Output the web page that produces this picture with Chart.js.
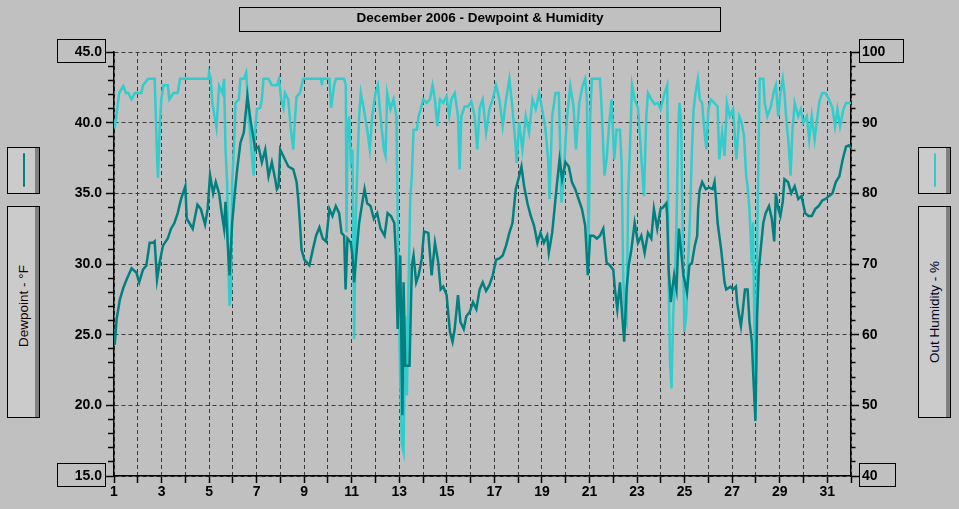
<!DOCTYPE html>
<html>
<head>
<meta charset="utf-8">
<title>December 2006 - Dewpoint & Humidity</title>
<script src="https://cdn.jsdelivr.net/npm/chart.js"></script>
<style>
  html, body { margin: 0; padding: 0; background: #c0c0c0; }
  #wrap { position: relative; width: 959px; height: 509px; overflow: hidden; font-family: "Liberation Sans", Arial, sans-serif; }
  #chart { position: absolute; left: 0; top: 0; }
  .box { position: absolute; box-sizing: border-box; border: 1px solid #000; }
  #title { left: 239px; top: 7px; width: 482px; height: 25px; text-align: center; font-weight: bold; font-size: 13.5px; line-height: 19px; color: #000; }
  .legend { background: #cbcbcb; box-shadow: inset -4px 0 0 #808080; }
  .swatch { position: absolute; width: 2px; top: 5px; height: 34px; border-radius: 1px; }
  .axisname { position: absolute; left: 50%; top: 50%; white-space: nowrap; font-size: 13.5px; }
  .endlbl { background: transparent; }
</style>
</head>
<body>
<div id="wrap">
  <canvas id="chart" width="959" height="509"></canvas>
  <div id="title" class="box">December 2006 - Dewpoint &amp; Humidity</div>

  <div class="box legend" style="left:7px; top:147px; width:33px; height:47px;">
    <div class="swatch" style="left:15px; background:#008080;"></div>
  </div>
  <div class="box legend" style="left:7px; top:206px; width:33px; height:212px;">
    <span class="axisname" style="color:#1a0000; transform: translate(-50%, -50%) translate(-1px, -6px) rotate(-90deg);">Dewpoint - °F</span>
  </div>

  <div class="box legend" style="left:918px; top:147px; width:33px; height:47px;">
    <div class="swatch" style="left:15px; background:#33cccc;"></div>
  </div>
  <div class="box legend" style="left:918px; top:206px; width:33px; height:212px;">
    <span class="axisname" style="color:#00001a; transform: translate(-50%, -50%) translate(-1px, 0px) rotate(-90deg);">Out Humidity - %</span>
  </div>

  <div class="box endlbl" style="left:57px; top:39px; width:49px; height:24px;"></div>
  <div class="box endlbl" style="left:57px; top:463px; width:49px; height:24px;"></div>
  <div class="box endlbl" style="left:859px; top:39px; width:45px; height:24px;"></div>
  <div class="box endlbl" style="left:859px; top:463px; width:37px; height:24px;"></div>
</div>
<script>
// Dewpoint (°F) - jour du mois (fractionnaire) et valeur
const dewDays = [
  1.00, 1.03, 1.11, 1.25, 1.39, 1.53, 1.74, 1.94, 2.06, 2.22, 2.36, 2.50, 2.64, 2.71, 2.81, 2.92,
  3.06, 3.26, 3.40, 3.54, 3.68, 3.82, 4.00, 4.06, 4.17, 4.31, 4.51, 4.65, 4.83, 4.94,
  5.04, 5.17, 5.28, 5.42, 5.53, 5.63, 5.69, 5.81, 5.86, 5.97, 6.08, 6.18, 6.32, 6.46, 6.53, 6.61, 6.74, 6.94,
  7.08, 7.22, 7.36, 7.50, 7.64, 7.78, 7.85, 7.92, 7.99, 8.13, 8.33, 8.54, 8.68, 8.75, 8.82, 8.89,
  9.01, 9.22, 9.36, 9.50, 9.64, 9.78, 9.92, 10.06, 10.19, 10.33, 10.47, 10.57, 10.68, 10.74, 10.82, 10.96,
  11.03, 11.10, 11.21, 11.31, 11.44, 11.54, 11.65, 11.79, 11.93, 12.07, 12.21, 12.38, 12.51, 12.65, 12.79, 12.86, 12.93,
  13.04, 13.13, 13.18, 13.25, 13.43, 13.53, 13.60, 13.71, 13.81, 13.94, 14.04, 14.22, 14.36, 14.50, 14.64, 14.74, 14.85, 14.99,
  15.13, 15.24, 15.33, 15.47, 15.57, 15.71, 15.82, 15.96, 16.10, 16.24, 16.38, 16.51, 16.65, 16.79, 16.93,
  17.07, 17.21, 17.35, 17.49, 17.63, 17.76, 17.90, 18.04, 18.14, 18.25, 18.39, 18.53, 18.67, 18.81, 18.94,
  19.08, 19.22, 19.29, 19.43, 19.57, 19.64, 19.74, 19.85, 19.99, 20.13, 20.26, 20.40, 20.54, 20.68, 20.82, 20.93,
  21.03, 21.17, 21.31, 21.44, 21.58, 21.72, 21.86, 22.00, 22.07, 22.17, 22.28, 22.38, 22.46, 22.56, 22.65, 22.76, 22.90,
  23.04, 23.18, 23.32, 23.46, 23.60, 23.71, 23.85, 23.99, 24.09, 24.23, 24.27, 24.33, 24.42, 24.48, 24.56, 24.66, 24.76, 24.85, 24.95,
  25.02, 25.10, 25.20, 25.31, 25.43, 25.53, 25.57, 25.63, 25.74, 25.89, 26.03, 26.18, 26.26, 26.32, 26.39, 26.46, 26.54, 26.61, 26.68, 26.75, 26.93,
  27.04, 27.16, 27.21, 27.30, 27.37, 27.44, 27.54, 27.65, 27.73, 27.83, 27.90, 27.98, 28.05, 28.12, 28.20, 28.31, 28.41, 28.55, 28.67, 28.77, 28.84, 28.94,
  29.03, 29.13, 29.20, 29.35, 29.49, 29.63, 29.78, 29.92, 30.07, 30.21, 30.35, 30.50, 30.64, 30.79, 30.93,
  31.07, 31.22, 31.36, 31.51, 31.65, 31.79, 31.91, 32.00
];
const dewValues = [
  25.0, 24.3, 26.1, 27.5, 28.3, 28.9, 29.7, 29.4, 28.7, 29.6, 29.9, 31.5, 31.5, 31.6, 28.9, 30.1,
  31.3, 31.8, 32.5, 32.9, 33.6, 34.6, 35.5, 33.2, 32.9, 32.5, 34.2, 33.9, 32.8, 33.9,
  36.3, 35.0, 35.8, 35.0, 33.6, 32.5, 34.4, 30.6, 29.2, 32.9, 35.0, 36.7, 38.6, 39.3, 40.5, 41.9, 40.2, 38.1,
  38.3, 37.2, 38.1, 36.2, 37.2, 36.0, 35.3, 35.5, 38.1, 37.6, 36.9, 36.7, 35.8, 34.6, 32.9, 31.0,
  30.3, 29.9, 31.0, 32.0, 32.6, 31.8, 31.6, 33.9, 33.4, 34.1, 33.6, 32.2, 32.0, 28.2, 31.8, 31.5,
  30.6, 28.7, 31.0, 32.9, 34.3, 35.3, 34.3, 34.1, 33.2, 33.6, 32.5, 32.0, 33.6, 33.4, 32.9, 30.6, 25.4,
  30.6, 19.3, 28.7, 22.8, 22.8, 29.9, 30.6, 28.7, 29.2, 30.3, 32.3, 32.2, 29.2, 31.5, 30.1, 28.2, 28.4, 27.8,
  25.2, 24.5, 25.4, 27.8, 25.9, 25.4, 26.3, 26.6, 27.3, 26.8, 28.2, 28.7, 28.1, 28.5, 29.2,
  30.3, 30.4, 30.6, 31.3, 32.2, 32.9, 35.3, 36.2, 36.9, 35.5, 34.3, 33.4, 32.7, 31.5, 32.2,
  31.5, 32.0, 30.8, 32.2, 34.6, 35.8, 37.4, 36.0, 37.2, 36.9, 35.8, 35.3, 34.6, 33.9, 32.7, 29.2,
  32.0, 32.0, 31.8, 32.0, 32.5, 30.1, 29.9, 29.6, 28.2, 26.8, 28.7, 26.3, 24.5, 28.2, 29.9, 31.0, 32.9,
  31.5, 32.0, 30.8, 32.2, 31.8, 33.9, 32.5, 33.9, 34.0, 34.3, 33.4, 29.6, 27.3, 28.2, 29.2, 28.2, 32.5, 31.0, 29.2,
  28.7, 28.0, 29.9, 30.1, 31.3, 32.0, 33.9, 35.2, 35.8, 35.3, 35.4, 35.3, 35.8, 34.6, 32.9, 32.0, 31.0, 29.9, 28.7, 28.2, 28.4,
  28.2, 28.4, 27.3, 26.3, 25.6, 26.6, 28.2, 28.2, 25.9, 24.5, 21.7, 18.9, 26.3, 29.6, 31.0, 32.9, 33.6, 34.1, 33.2, 31.6, 35.0, 33.9,
  33.4, 34.4, 36.0, 35.8, 35.0, 35.5, 34.6, 34.8, 33.6, 33.4, 33.4, 33.9, 34.1, 34.5, 34.6,
  34.8, 35.0, 35.8, 36.2, 37.4, 38.3, 38.4, 38.2
];

// Humidité extérieure (%)
const humDays = [
  1.00, 1.03, 1.14, 1.22, 1.39, 1.50, 1.60, 1.74, 1.88, 2.15, 2.22, 2.43, 2.71, 2.75, 2.81, 2.85, 2.92, 2.99,
  3.08, 3.26, 3.33, 3.50, 3.68, 3.78, 4.03, 4.97, 5.00, 5.07, 5.14, 5.31, 5.42, 5.56, 5.63, 5.69, 5.76, 5.81, 5.86, 5.92, 5.97,
  6.04, 6.11, 6.25, 6.32, 6.46, 6.56, 6.67, 6.81, 6.88, 6.94, 7.01, 7.15, 7.22, 7.29, 7.50, 7.64, 7.85, 7.94,
  8.03, 8.13, 8.19, 8.33, 8.44, 8.54, 8.61, 8.68, 8.82, 8.96, 9.71, 9.74, 9.78, 10.06, 10.13, 10.26, 10.33, 10.68, 10.75, 10.78, 10.82, 10.89, 10.96,
  11.03, 11.10, 11.17, 11.24, 11.31, 11.38, 11.51, 11.65, 11.76, 11.86, 12.00, 12.10, 12.21, 12.35, 12.42, 12.49, 12.63, 12.76, 12.88, 12.90, 12.97,
  13.04, 13.11, 13.18, 13.25, 13.32, 13.39, 13.46, 13.53, 13.60, 13.74, 13.81, 13.90, 14.01, 14.15, 14.29, 14.40, 14.50, 14.60, 14.71, 14.85, 14.99,
  15.10, 15.19, 15.33, 15.47, 15.54, 15.61, 15.75, 15.89, 16.03, 16.17, 16.28, 16.38, 16.51, 16.65, 16.79, 16.93,
  17.07, 17.21, 17.35, 17.49, 17.63, 17.76, 17.88, 17.94, 18.04, 18.18, 18.32, 18.46, 18.60, 18.74, 18.88,
  19.01, 19.15, 19.26, 19.32, 19.43, 19.57, 19.71, 19.82, 19.92, 19.99, 20.06, 20.19, 20.33, 20.43, 20.57, 20.71, 20.82, 20.89, 20.96,
  21.03, 21.10, 21.44, 21.51, 21.63, 21.72, 21.82, 21.93, 22.04, 22.14, 22.28, 22.35, 22.42, 22.49, 22.56, 22.63, 22.69, 22.79, 22.90,
  23.04, 23.15, 23.29, 23.39, 23.46, 23.60, 23.74, 23.88, 23.99, 24.16, 24.27, 24.33, 24.39, 24.45, 24.52, 24.59, 24.66, 24.73, 24.78, 24.85, 24.91, 24.99,
  25.07, 25.14, 25.22, 25.31, 25.38, 25.46, 25.56, 25.64, 25.74, 25.84, 25.92, 26.00, 26.10, 26.25, 26.39, 26.46, 26.58, 26.68, 26.78, 26.90,
  27.04, 27.18, 27.30, 27.40, 27.50, 27.59, 27.65, 27.73, 27.82, 27.88, 27.93, 27.99, 28.05, 28.11, 28.16, 28.31, 28.37, 28.48, 28.63, 28.74, 28.84, 28.94,
  29.03, 29.13, 29.20, 29.27, 29.37, 29.46, 29.53, 29.63, 29.78, 29.89, 29.99, 30.14, 30.24, 30.35, 30.47, 30.57, 30.67, 30.79, 30.93,
  31.07, 31.22, 31.33, 31.43, 31.54, 31.68, 31.79, 31.94, 32.00
];
const humValues = [
  90.4, 89.2, 92.1, 94.2, 95.2, 94.2, 94.2, 93.3, 94.2, 94.2, 95.3, 96.2, 96.2, 91.9, 85.3, 82.2, 89.0, 93.3,
  95.3, 95.3, 93.3, 94.2, 94.2, 96.2, 96.2, 96.2, 97.1, 96.2, 92.7, 89.3, 95.2, 94.2, 96.2, 86.2, 81.5, 69.8, 64.1, 66.0, 81.5,
  86.2, 92.8, 93.3, 96.2, 96.2, 97.1, 90.9, 84.8, 82.5, 89.0, 91.9, 92.1, 93.3, 96.2, 96.2, 95.3, 95.3, 96.2,
  93.3, 92.1, 94.2, 93.3, 89.0, 86.2, 90.4, 93.7, 94.2, 96.2, 96.2, 95.3, 96.2, 96.2, 92.1, 95.3, 96.2, 96.2, 95.3, 74.5, 88.1, 90.9, 84.8,
  86.2, 59.4, 76.8, 83.9, 90.9, 94.2, 91.9, 89.0, 86.2, 90.9, 94.2, 95.3, 90.9, 86.2, 85.3, 94.2, 91.9, 93.3, 90.9, 85.3, 67.3,
  53.3, 44.4, 43.4, 62.7, 51.4, 67.3, 79.2, 82.5, 89.0, 89.0, 90.9, 91.9, 93.3, 92.8, 93.3, 95.3, 93.3, 89.5, 93.3, 92.8, 93.7,
  90.9, 93.3, 94.2, 90.9, 83.4, 90.9, 92.3, 92.3, 93.0, 90.9, 86.2, 92.1, 93.3, 88.6, 91.9, 93.3,
  95.3, 93.3, 89.5, 93.3, 96.2, 92.1, 87.2, 84.3, 90.0, 86.2, 90.9, 88.6, 93.3, 91.9, 94.2,
  91.9, 89.0, 84.8, 79.2, 90.9, 94.2, 94.2, 78.7, 82.5, 87.2, 90.9, 95.2, 92.3, 86.2, 92.8, 95.2, 96.2, 93.3, 72.1,
  90.9, 96.2, 96.2, 92.1, 82.5, 84.8, 89.5, 93.3, 84.8, 89.0, 89.0, 84.3, 67.9, 62.7, 61.8, 80.1, 85.3, 95.3, 93.3,
  92.1, 86.7, 79.6, 90.9, 94.2, 93.3, 92.6, 92.8, 91.9, 94.2, 95.3, 67.3, 55.7, 52.4, 62.7, 67.3, 75.9, 88.6, 92.8, 91.0, 76.8, 60.4,
  62.7, 69.8, 75.9, 86.2, 91.9, 94.2, 96.2, 93.3, 92.8, 88.6, 86.2, 91.9, 93.3, 92.8, 92.3, 84.8, 88.6, 85.3, 92.8, 90.9,
  91.9, 84.8, 90.9, 90.0, 88.1, 82.5, 81.0, 77.7, 70.2, 75.9, 62.7, 51.9, 72.1, 86.2, 96.2, 96.2, 92.8, 90.9, 92.3, 94.2, 95.3, 90.9,
  94.2, 96.2, 94.2, 90.9, 87.2, 82.5, 88.6, 92.8, 90.9, 91.9, 90.0, 90.9, 87.6, 90.9, 87.6, 90.4, 93.0, 94.2, 94.2,
  93.3, 92.1, 89.5, 91.9, 89.5, 91.9, 92.8, 92.8, 92.8
];

// Graduations
const xMin = 1, xMax = 32;
const dewMin = 15, dewMax = 45;
const humMin = 40, humMax = 100;

const dewColor = '#008080';
const humColor = '#33cccc';
const gridColor = '#3a3a3a';

const toPoints = (xs, ys) => xs.map((d, i) => ({ x: d, y: ys[i] }));

const tickFont = { family: 'Liberation Sans', size: 14, weight: 'bold' };

new Chart(document.getElementById('chart'), {
  type: 'line',
  data: {
    datasets: [
      {
        label: 'Dewpoint - °F',
        data: toPoints(dewDays, dewValues),
        yAxisID: 'y',
        borderColor: dewColor,
        borderWidth: 2.5,
        pointRadius: 0,
        tension: 0,
        fill: false
      },
      {
        label: 'Out Humidity - %',
        data: toPoints(humDays, humValues),
        yAxisID: 'y1',
        borderColor: humColor,
        borderWidth: 2.5,
        pointRadius: 0,
        tension: 0,
        fill: false
      }
    ]
  },
  options: {
    responsive: false,
    animation: false,
    devicePixelRatio: 1,
    layout: { padding: { top: 52, left: 0, right: 0, bottom: 0 } },
    plugins: {
      legend: { display: false },
      tooltip: { enabled: false },
      title: { display: false }
    },
    scales: {
      x: {
        type: 'linear',
        min: xMin,
        max: xMax,
        afterFit: s => { s.height = 33; },
        ticks: {
          stepSize: 1,
          autoSkip: false,
          maxTicksLimit: 100,
          maxRotation: 0,
          padding: 1,
          color: '#000',
          font: tickFont,
          callback: v => (v % 2 === 1 && v <= 31) ? String(v) : ''
        },
        grid: {
          color: gridColor,
          lineWidth: 1,
          tickLength: 7,
          tickColor: '#000',
          tickWidth: 1.5
        },
        border: { display: true, color: '#000', width: 1.5, dash: [4, 3] }
      },
      y: {
        type: 'linear',
        position: 'left',
        min: dewMin,
        max: dewMax,
        afterFit: s => { s.width = 114; },
        ticks: {
          stepSize: 1,
          autoSkip: false,
          maxTicksLimit: 100,
          padding: 4,
          color: '#000',
          font: tickFont,
          callback: v => v % 5 === 0 ? v.toFixed(1) : ''
        },
        grid: {
          color: c => c.tick && c.tick.value % 5 === 0 ? gridColor : 'transparent',
          lineWidth: 1,
          tickLength: 8,
          tickColor: '#000',
          tickWidth: 1.5,
          tickBorderDash: c => c.tick && c.tick.value % 5 === 0 ? [] : [0, 2, 6, 100]
        },
        border: { display: true, color: '#000', width: 1.5, dash: [4, 3] }
      },
      y1: {
        type: 'linear',
        position: 'right',
        min: humMin,
        max: humMax,
        afterFit: s => { s.width = 108; },
        ticks: {
          stepSize: 2,
          autoSkip: false,
          maxTicksLimit: 100,
          padding: 3,
          color: '#000',
          font: tickFont,
          callback: v => v % 10 === 0 ? String(v) : ''
        },
        grid: {
          drawOnChartArea: false,
          tickLength: 8,
          tickColor: '#000',
          tickWidth: 1.5,
          tickBorderDash: c => c.tick && c.tick.value % 10 === 0 ? [] : [4, 100]
        },
        border: { display: true, color: '#000', width: 1.5 }
      }
    }
  }
});
</script>
</body>
</html>
